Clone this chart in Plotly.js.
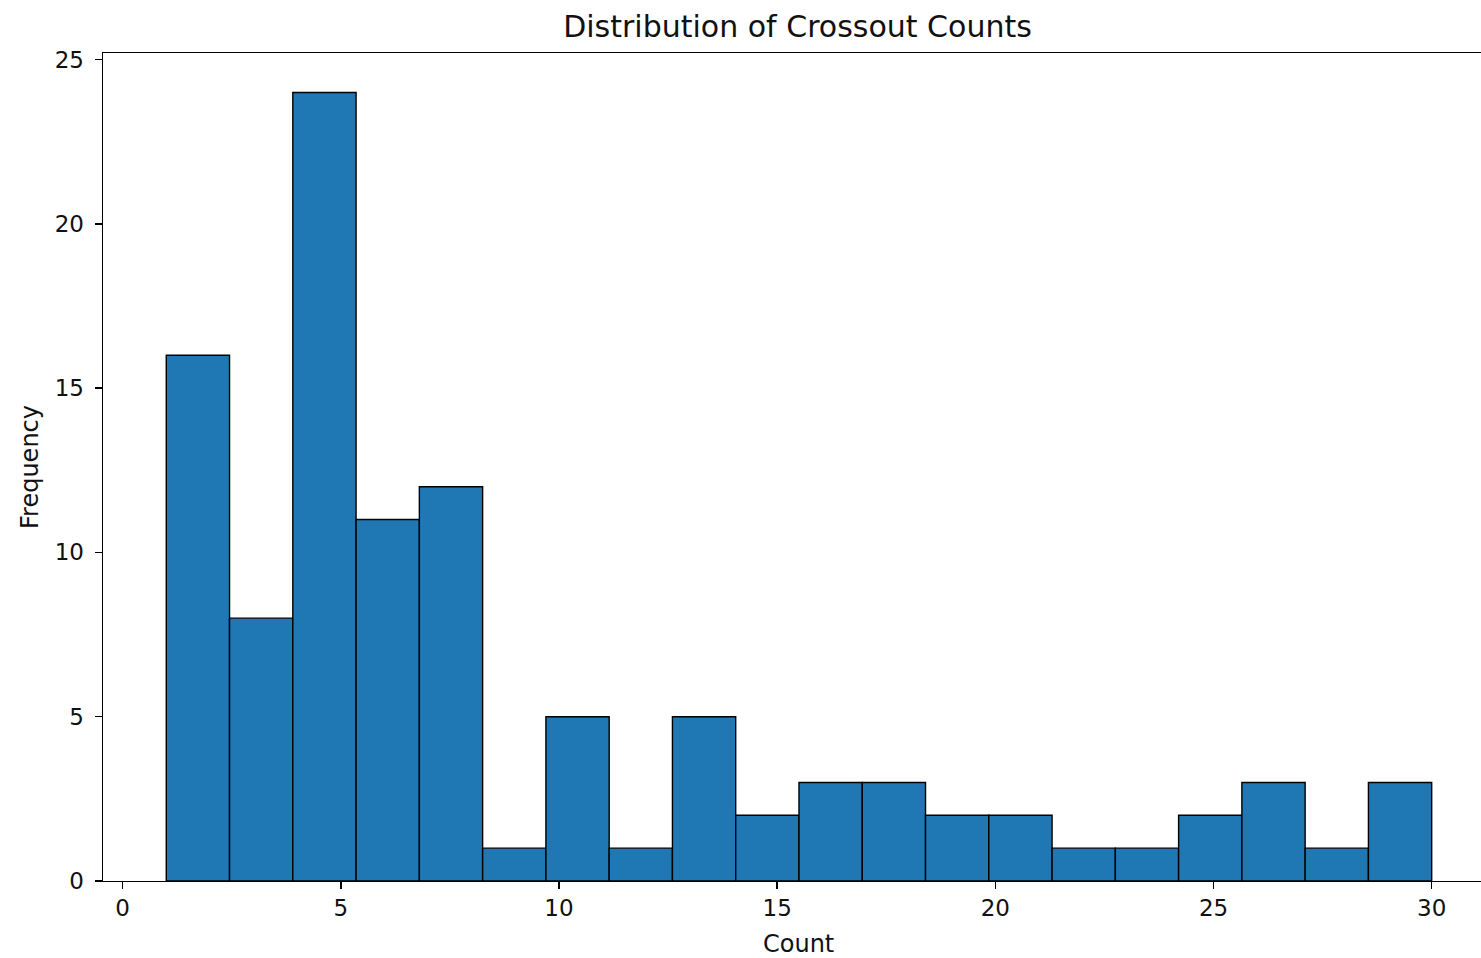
<!DOCTYPE html>
<html>
<head>
<meta charset="utf-8">
<script src="https://cdn.plot.ly/plotly-3.0.1.min.js"></script>
<style>html,body{margin:0;padding:0;background:#fff;}#chart{width:1481px;height:958px;}</style>
</head>
<body>
<div id="chart"></div>
<script>
// Histogram bin edges (20 bins from 1 to 30)
const binEdges = [1, 2.45, 3.9, 5.35, 6.8, 8.25, 9.7, 11.15, 12.6, 14.05, 15.5,
                  16.95, 18.4, 19.85, 21.3, 22.75, 24.2, 25.65, 27.1, 28.55, 30];
// Frequency per bin
const frequencies = [16, 8, 24, 11, 12, 1, 5, 1, 5, 2, 3, 3, 2, 2, 1, 1, 2, 3, 1, 3];
const xTicks = [0, 5, 10, 15, 20, 25, 30];
const yTicks = [0, 5, 10, 15, 20, 25];

const centers = frequencies.map((_, i) => (binEdges[i] + binEdges[i + 1]) / 2);
const widths = frequencies.map((_, i) => binEdges[i + 1] - binEdges[i]);

const font = "DejaVu Sans, sans-serif";
const trace = {
  type: 'bar',
  x: centers,
  y: frequencies,
  width: widths,
  marker: { color: '#1f77b4', line: { color: '#000000', width: 1.4 } },
  hoverinfo: 'x+y'
};

const layout = {
  width: 1481, height: 958,
  margin: { l: 103, r: 0, t: 53, b: 77, pad: 0 },
  paper_bgcolor: '#ffffff', plot_bgcolor: '#ffffff',
  showlegend: false,
  bargap: 0,
  title: { text: 'Distribution of Crossout Counts', font: { family: font, size: 30, color: '#111' },
           x: 0.5385, xanchor: 'center', y: 0.972, yanchor: 'middle' },
  xaxis: {
    range: [-0.45, 31.13], showgrid: false, zeroline: false,
    showline: true, linecolor: '#000', linewidth: 1.4, mirror: true,
    ticks: 'outside', ticklen: 7, tickwidth: 1.4, tickcolor: '#000',
    ticklabelstandoff: -1,
    tickvals: xTicks, ticktext: xTicks.map(String),
    tickfont: { family: font, size: 23, color: '#111' }
  },
  yaxis: {
    range: [0, 25.2], showgrid: false, zeroline: false,
    showline: true, linecolor: '#000', linewidth: 1.4,
    ticks: 'outside', ticklen: 7, tickwidth: 1.4, tickcolor: '#000',
    ticklabelstandoff: 6,
    tickvals: yTicks, ticktext: yTicks.map(String),
    tickfont: { family: font, size: 23, color: '#111' },
    title: { text: 'Frequency', font: { family: font, size: 24, color: '#111' }, standoff: 9 }
  },
  annotations: [{
    text: 'Count', xref: 'paper', yref: 'paper', x: 0.5044, y: -0.0761,
    xanchor: 'center', yanchor: 'middle', showarrow: false,
    font: { family: font, size: 24, color: '#111' }
  }]
};

Plotly.newPlot('chart', [trace], layout, { displayModeBar: false, staticPlot: true });
</script>
</body>
</html>
